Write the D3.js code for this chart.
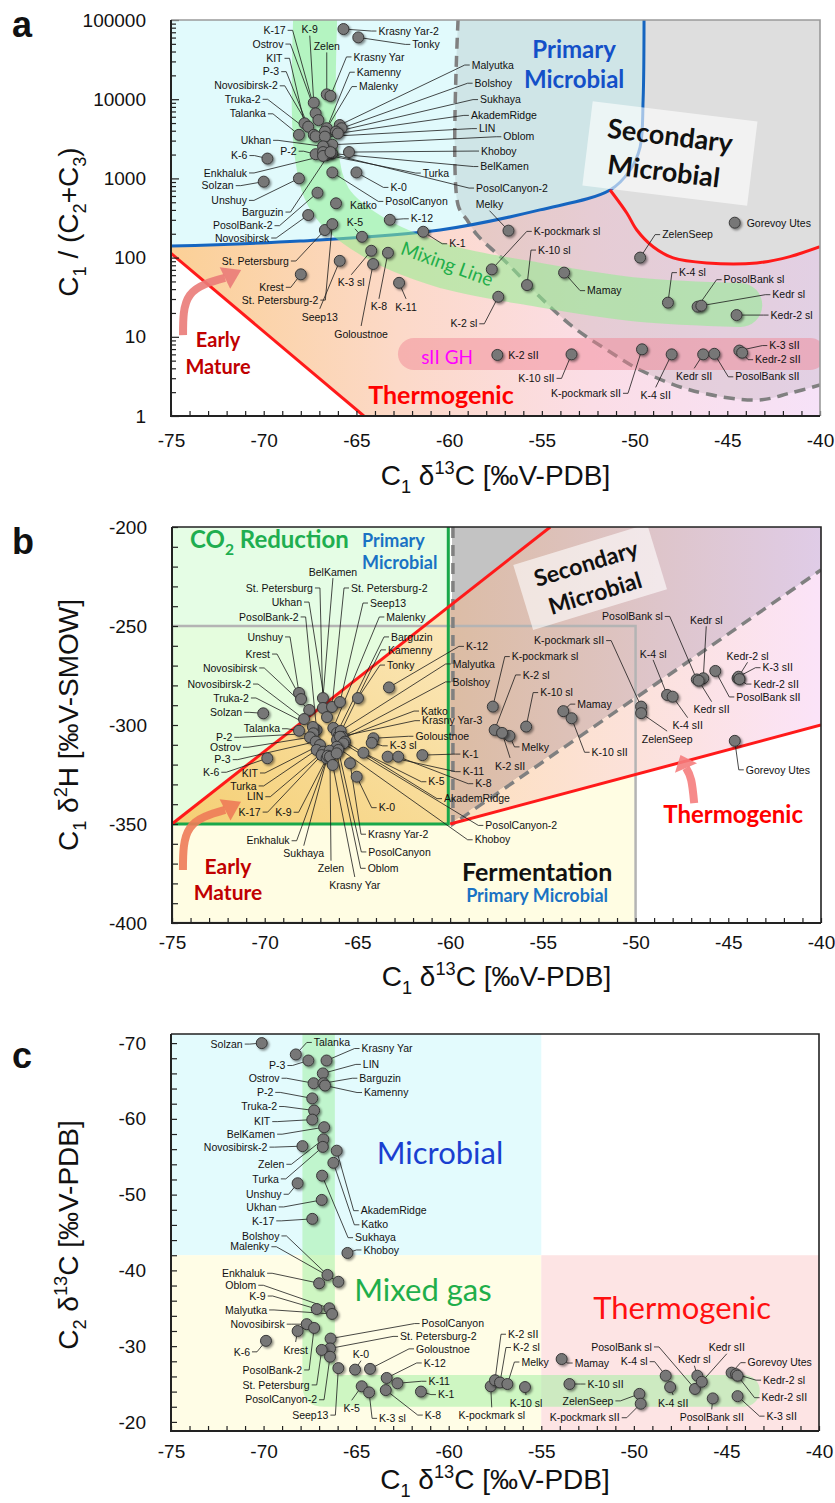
<!DOCTYPE html>
<html>
<head>
<meta charset="utf-8">
<script src="https://cdn.jsdelivr.net/npm/d3@7"></script>
<style>
  body { margin: 0; background: #fff; }
  svg { display: block; font-family: "Liberation Sans", Arial, sans-serif; }
</style>
</head>
<body>
<div id="chart"></div>
<script>
// ---- data: [name, C1 d13C, value] ----
const xTickValues = d3.range(-75, -39, 1);

// panel a: C1 d13C vs C1/(C2+C3)
const aYMajor = [1, 10, 100, 1000, 10000, 100000];
const gasA = [
  ["Krasny Yar-2", -65.7, 76900], ["Tonky", -64.9, 60300], ["Zelen", -66.6, 11500],
  ["Krasny Yar", -66.4, 11000], ["K-9", -67.3, 9040], ["K-17", -67.2, 6630],
  ["Ostrov", -67.05, 5450], ["KIT", -67.8, 4960], ["P-3", -67.6, 4500],
  ["Kamenny", -66.6, 4300], ["Novosibirsk-2", -67.3, 3550], ["Malenky", -66.7, 3900],
  ["Truka-2", -67.2, 3400], ["Talanka", -68.1, 3550], ["Malyutka", -65.9, 4720],
  ["Bolshoy", -65.8, 4300], ["Sukhaya", -66.1, 3900], ["AkademRidge", -66.0, 3700],
  ["LIN", -66.7, 3370], ["Oblom", -66.3, 2660], ["Ukhan", -66.8, 2540],
  ["Khoboy", -65.4, 2150], ["BelKamen", -66.3, 2060], ["P-2", -67.2, 2020],
  ["Turka", -66.6, 1970], ["PosolCanyon-2", -66.8, 2150], ["K-6", -69.8, 1780],
  ["Enkhaluk", -66.8, 1920], ["Solzan", -70.0, 910], ["Unshuy", -68.1, 1000],
  ["Barguzin", -66.4, 2150], ["K-0", -65.0, 1190], ["PosolCanyon", -66.3, 1190],
  ["Katko", -66.1, 485], ["PosolBank-2", -67.1, 660], ["Novosibirsk", -67.6, 345],
  ["K-5", -64.7, 183], ["K-12", -63.2, 300], ["K-1", -61.4, 212],
  ["St. Petersburg", -66.7, 223], ["St. Petersburg-2", -66.3, 265], ["Krest", -68.0, 61.5],
  ["Seep13", -65.9, 91], ["K-3 sl", -64.2, 122], ["Goloustnoe", -64.1, 83],
  ["K-8", -63.3, 115], ["K-11", -62.7, 48], ["Melky", -56.8, 219],
  ["Gorevoy Utes", -44.6, 276], ["K-pockmark sl", -57.7, 71], ["K-10 sl", -55.8, 45],
  ["K-2 sl", -57.35, 32], ["Mamay", -53.8, 64.6], ["ZelenSeep", -49.7, 100],
  ["K-4 sl", -48.2, 27], ["PosolBank sl", -46.6, 24], ["Kedr sl", -46.4, 24.7],
  ["Kedr-2 sl", -44.5, 18.8], ["K-2 sII", -57.4, 5.9], ["K-10 sII", -53.4, 6.0],
  ["K-pockmark sII", -49.6, 6.95], ["K-4 sII", -48.0, 6.0], ["Kedr sII", -46.3, 6.0],
  ["PosolBank sII", -45.7, 6.1], ["K-3 sII", -44.35, 6.7], ["Kedr-2 sII", -44.2, 6.3]
];

// panel b: C1 d13C vs C1 d2H
const bYTicks = d3.range(-400, -199, 10);
const gasB = [
  ["BelKamen", -66.86, -286.4], ["St. Petersburg", -66.86, -291.4], ["St. Petersburg-2", -66.37, -290.9],
  ["Ukhan", -66.64, -296.0], ["Seep13", -65.94, -288.4], ["PosolBank-2", -67.2, -302.5],
  ["Malenky", -66.3, -301.5], ["Unshuy", -68.15, -283.8], ["Barguzin", -66.1, -304.0],
  ["Krest", -68.04, -286.9], ["Kamenny", -66.0, -305.5], ["K-12", -63.3, -281.0],
  ["Novosibirsk", -67.6, -292.4], ["Tonky", -64.97, -286.4], ["Malyutka", -65.9, -303.0],
  ["Bolshoy", -65.8, -306.0], ["Novosibirsk-2", -67.88, -297.0], ["Truka-2", -67.4, -301.0],
  ["Solzan", -70.08, -294.1], ["Katko", -66.1, -307.6], ["Krasny Yar-3", -65.94, -305.9],
  ["Talanka", -68.15, -302.9], ["P-2", -67.38, -304.2], ["Goloustnoe", -64.14, -306.7],
  ["Ostrov", -67.56, -306.2], ["K-3 sl", -64.23, -309.0], ["K-1", -61.5, -315.2],
  ["P-3", -67.25, -308.4], ["K-6", -69.86, -316.8], ["KIT", -67.02, -310.1],
  ["K-11", -63.37, -316.0], ["Turka", -67.2, -312.6], ["K-5", -64.68, -314.0],
  ["K-8", -62.8, -316.0], ["LIN", -66.84, -313.5], ["AkademRidge", -65.67, -308.4],
  ["K-17", -66.93, -315.2], ["K-9", -66.66, -316.8], ["K-0", -65.04, -326.1],
  ["PosolCanyon-2", -65.76, -309.3], ["Khoboy", -66.12, -311.0], ["Krasny Yar-2", -65.4, -319.3],
  ["Enkhaluk", -66.5, -313.0], ["PosolCanyon", -66.03, -312.6], ["Sukhaya", -66.6, -315.5],
  ["Zelen", -66.48, -316.0], ["Krasny Yar", -66.33, -320.2], ["Oblom", -66.12, -314.3],
  ["K-pockmark sl", -57.7, -290.7], ["PosolBank sl", -46.7, -277.0], ["Kedr sl", -46.35, -276.4],
  ["Kedr sII", -46.6, -277.6], ["PosolBank sII", -45.7, -272.7], ["Kedr-2 sl", -44.5, -276.4],
  ["K-3 sII", -44.45, -275.6], ["Kedr-2 sII", -44.4, -276.8], ["K-4 sl", -48.3, -284.8],
  ["K-4 sII", -48.0, -285.7], ["K-pockmark sII", -49.7, -290.7], ["ZelenSeep", -49.7, -294.0],
  ["Mamay", -53.9, -293.0], ["K-10 sII", -53.45, -296.6], ["K-2 sl", -57.6, -302.5],
  ["K-10 sl", -55.9, -300.8], ["Melky", -56.8, -305.5], ["K-2 sII", -57.2, -304.0],
  ["Gorevoy Utes", -44.65, -308.0]
];

// panel c: C1 d13C vs C2 d13C
const cYTicks = d3.range(-70, -19, 2);
const gasC = [
  ["Solzan", -70.1, -70.0], ["Talanka", -68.26, -68.5], ["P-3", -67.58, -67.7],
  ["Krasny Yar", -66.6, -67.7], ["LIN", -66.8, -66.0], ["Ostrov", -67.3, -64.7],
  ["Barguzin", -66.77, -64.7], ["Kamenny", -66.68, -64.4], ["P-2", -67.37, -62.7],
  ["Truka-2", -67.27, -61.1], ["KIT", -67.37, -59.9], ["BelKamen", -66.73, -58.9],
  ["Novosibirsk-2", -67.9, -56.4], ["Zelen", -66.77, -57.3], ["Turka", -66.8, -56.3],
  ["AkademRidge", -66.05, -55.8], ["Katko", -66.23, -54.2], ["Unshuy", -68.16, -51.5],
  ["Sukhaya", -66.84, -52.5], ["Ukhan", -66.86, -49.3], ["K-17", -67.37, -46.8],
  ["Bolshoy", -66.55, -39.4], ["Malenky", -65.96, -38.5], ["Khoboy", -65.47, -42.3],
  ["Enkhaluk", -67.0, -38.3], ["Oblom", -66.45, -35.0], ["K-9", -67.13, -34.9],
  ["Malyutka", -66.3, -34.25], ["Novosibirsk", -67.67, -32.9], ["Krest", -68.16, -32.0],
  ["PosolBank-2", -67.27, -32.4], ["K-6", -69.87, -30.7], ["PosolCanyon", -66.38, -31.0],
  ["St. Petersburg-2", -66.41, -29.7], ["St. Petersburg", -66.86, -29.5], ["PosolCanyon-2", -66.41, -28.6],
  ["Seep13", -65.96, -27.1], ["K-0", -65.06, -26.9], ["Goloustnoe", -64.25, -27.0],
  ["K-12", -63.35, -25.8], ["K-11", -62.77, -25.1], ["K-5", -64.7, -24.7],
  ["K-3 sl", -64.3, -23.9], ["K-8", -63.4, -24.2], ["K-1", -61.5, -24.0],
  ["K-pockmark sl", -57.73, -24.7], ["K-2 sII", -57.5, -25.5], ["K-2 sl", -57.23, -25.2],
  ["Melky", -56.83, -25.0], ["K-10 sl", -55.88, -24.6], ["Mamay", -53.9, -28.3],
  ["K-10 sII", -53.48, -25.0], ["ZelenSeep", -49.7, -23.7], ["K-pockmark sII", -49.63, -22.4],
  ["K-4 sl", -48.28, -26.1], ["K-4 sII", -48.04, -24.6], ["PosolBank sl", -46.7, -24.35],
  ["Kedr sl", -46.57, -26.1], ["Kedr sII", -46.33, -25.3], ["PosolBank sII", -45.74, -23.1],
  ["Gorevoy Utes", -44.72, -26.5], ["Kedr-2 sl", -44.48, -26.3], ["Kedr-2 sII", -44.4, -26.1],
  ["K-3 sII", -44.4, -23.4]
];

// ---- label layout: [dx, dy, anchor] in px from the point (s=start, e=end, m=middle, n=no leader) ----
const labelsA = {
  "Krasny Yar-2": [35, 2, "s"], "Tonky": [54, 7, "s"], "Zelen": [0, -48, "m"], "Krasny Yar": [23, -39, "s"],
  "K-9": [-4, -73, "m"], "K-17": [-30, -83, "e"], "Ostrov": [-35, -76, "e"], "KIT": [-22, -65, "e"],
  "P-3": [-29, -55, "e"], "Kamenny": [30, -56, "s"], "Novosibirsk-2": [-36, -49, "e"], "Malenky": [34, -45, "s"],
  "Truka-2": [-55, -37, "e"], "Talanka": [-33, -21, "e"], "Malyutka": [132, -60, "s"], "Bolshoy": [133, -45, "s"],
  "Sukhaya": [144, -32, "s"], "AkademRidge": [133, -18, "s"], "LIN": [154, -8, "s"], "Oblom": [171, -8, "s"],
  "Ukhan": [-52, -6, "e"], "Khoboy": [132, -1, "s"], "BelKamen": [148, 13, "s"], "P-2": [-19, -3, "e"],
  "Turka": [96, 18, "s"], "PosolCanyon-2": [153, 36, "s"], "K-6": [-20, -3, "e"], "Enkhaluk": [-76, 17, "e"],
  "Solzan": [-30, 4, "e"], "Unshuy": [-52, 22, "e"], "Barguzin": [-47, 60, "e"], "K-0": [34, 15, "s"],
  "PosolCanyon": [53, 29, "s"], "Katko": [14, 2, "sn"], "PosolBank-2": [-45, 33, "e"], "Novosibirsk": [-39, 23, "e"],
  "K-5": [-7, -14, "m"], "K-12": [21, -1, "s"], "K-1": [26, 12, "s"], "St. Petersburg": [-36, 31, "e"],
  "St. Petersburg-2": [-14, 76, "e"], "Krest": [-17, 13, "e"], "Seep13": [-20, 56, "m"], "K-3 sl": [-20, 32, "m"],
  "Goloustnoe": [-12, 70, "m"], "K-8": [-9, 54, "m"], "K-11": [7, 24, "m"], "Melky": [-19, -26, "m"],
  "Gorevoy Utes": [12, 1, "sn"], "K-pockmark sl": [42, -38, "s"], "K-10 sl": [11, -35, "s"], "K-2 sl": [-21, 27, "e"],
  "Mamay": [23, 18, "s"], "ZelenSeep": [22, -23, "s"], "K-4 sl": [11, -30, "s"], "PosolBank sl": [26, -27, "s"],
  "Kedr sl": [71, -11, "s"], "Kedr-2 sl": [34, 0, "s"], "K-2 sII": [11, 0, "sn"], "K-10 sII": [-17, 24, "e"],
  "K-pockmark sII": [-21, 44, "e"], "K-4 sII": [-16, 41, "m"], "Kedr sII": [-9, 22, "m"], "PosolBank sII": [21, 23, "s"],
  "K-3 sII": [30, -5, "s"], "Kedr-2 sII": [13, 7, "s"]
};
const labelsB = {
  "BelKamen": [10, -126, "m"], "St. Petersburg": [-10, -120, "e"], "St. Petersburg-2": [19, -119, "s"],
  "Ukhan": [-25, -115, "e"], "Seep13": [30, -99, "s"], "PosolBank-2": [-18, -113, "e"], "Malenky": [53, -111, "s"],
  "Unshuy": [-16, -56, "e"], "Barguzin": [54, -96, "s"], "Krest": [-31, -45, "e"], "Kamenny": [49, -86, "s"],
  "K-12": [77, -41, "s"], "Novosibirsk": [-52, -42, "e"], "Tonky": [29, -33, "s"], "Malyutka": [112, -67, "s"],
  "Bolshoy": [110, -55, "s"], "Novosibirsk-2": [-53, -35, "e"], "Truka-2": [-64, -29, "e"], "Solzan": [-21, -1, "e"],
  "Katko": [84, -29, "s"], "Krasny Yar-3": [82, -16, "s"], "Talanka": [-19, -2, "e"], "P-2": [-81, 4, "e"],
  "Goloustnoe": [42, -2, "s"], "Ostrov": [-69, 10, "e"], "K-3 sl": [18, 3, "s"], "K-1": [40, -1, "s"],
  "P-3": [-85, 18, "e"], "K-6": [-48, 14, "e"], "KIT": [-62, 28, "e"], "K-11": [75, 15, "s"],
  "Turka": [-60, 36, "e"], "K-5": [65, 29, "s"], "K-8": [77, 27, "s"], "LIN": [-60, 45, "e"],
  "AkademRidge": [99, 57, "s"], "K-17": [-61, 57, "e"], "K-9": [-35, 54, "e"], "K-0": [22, 31, "s"],
  "PosolCanyon-2": [142, 82, "s"], "Khoboy": [138, 93, "s"], "Krasny Yar-2": [18, 71, "s"], "Enkhaluk": [-40, 90, "e"],
  "PosolCanyon": [30, 102, "s"], "Sukhaya": [-24, 98, "m"], "Zelen": [1, 112, "m"], "Krasny Yar": [22, 120, "m"],
  "Oblom": [31, 115, "s"], "K-pockmark sl": [19, -50, "s"], "PosolBank sl": [-34, -63, "e"], "Kedr sl": [3, -58, "m"],
  "Kedr sII": [13, 29, "m"], "PosolBank sII": [21, 26, "s"], "Kedr-2 sl": [10, -22, "m"], "K-3 sII": [24, -9, "s"],
  "Kedr-2 sII": [14, 5, "s"], "K-4 sl": [-14, -41, "m"], "K-4 sII": [15, 29, "m"], "K-pockmark sII": [-37, -66, "e"],
  "ZelenSeep": [26, 26, "m"], "Mamay": [14, -7, "s"], "K-10 sII": [20, 34, "s"], "K-2 sl": [28, -55, "s"],
  "K-10 sl": [14, -34, "s"], "Melky": [12, 11, "s"], "K-2 sII": [8, 33, "m"], "Gorevoy Utes": [11, 29, "s"]
};
const labelsC = {
  "Solzan": [-19, 1, "e"], "Talanka": [18, -12, "s"], "P-3": [-23, 5, "e"], "Krasny Yar": [35, -12, "s"],
  "LIN": [40, -9, "s"], "Ostrov": [-34, -5, "e"], "Barguzin": [36, -5, "s"], "Kamenny": [39, 7, "s"],
  "P-2": [-39, -6, "e"], "Truka-2": [-37, -4, "e"], "KIT": [-42, 2, "e"], "BelKamen": [-49, 7, "e"],
  "Novosibirsk-2": [-35, 1, "e"], "Zelen": [-39, 25, "e"], "Turka": [-44, 32, "e"], "AkademRidge": [24, 60, "s"],
  "Katko": [28, 62, "s"], "Unshuy": [-16, 11, "e"], "Sukhaya": [33, 62, "s"], "Ukhan": [-45, 7, "e"],
  "K-17": [-38, 2, "e"], "Bolshoy": [-48, -39, "e"], "Malenky": [-69, -35, "e"], "Khoboy": [16, -3, "s"],
  "Enkhaluk": [-54, -10, "e"], "Oblom": [-73, -23, "e"], "K-9": [-51, -13, "e"], "Malyutka": [-65, -4, "e"],
  "Novosibirsk": [-22, 0, "e"], "Krest": [-2, 19, "m"], "PosolBank-2": [-12, 42, "e"], "K-6": [-16, 11, "e"],
  "PosolCanyon": [91, -15, "s"], "St. Petersburg-2": [70, -12, "s"], "St. Petersburg": [-12, 35, "e"],
  "PosolCanyon-2": [-13, 43, "e"], "Seep13": [-10, 47, "e"], "K-0": [6, -15, "m"], "Goloustnoe": [46, -20, "s"],
  "K-12": [37, -15, "s"], "K-11": [31, -2, "s"], "K-5": [-10, 22, "m"], "K-3 sl": [10, 26, "s"],
  "K-8": [39, 25, "s"], "K-1": [17, 3, "s"], "K-pockmark sl": [1, 29, "m"], "K-2 sII": [13, -46, "s"],
  "K-2 sl": [13, -35, "s"], "Melky": [14, -22, "s"], "K-10 sl": [1, 16, "m"], "Mamay": [13, 4, "s"],
  "K-10 sII": [18, 0, "s"], "ZelenSeep": [-26, 7, "e"], "K-pockmark sII": [-21, 14, "e"], "K-4 sl": [-18, -14, "e"],
  "K-4 sII": [3, 16, "m"], "PosolBank sl": [-43, -42, "e"], "Kedr sl": [-3, -16, "m"], "Kedr sII": [25, -34, "m"],
  "PosolBank sII": [-1, 19, "m"], "Gorevoy Utes": [16, -10, "s"], "Kedr-2 sl": [27, 6, "s"],
  "Kedr-2 sII": [24, 22, "s"], "K-3 sII": [29, 20, "s"]
};

// ---- region outlines (data units) ----
const blueA = [[-75, 140], [-68.04, 162], [-60.49, 223], [-55.1, 400], [-51.32, 714],
  [-50.24, 1277], [-49.7, 2490], [-49.54, 9760], [-49.49, 100000]];
const redA = [[-51.32, 714], [-50.42, 366], [-49.88, 223], [-49.0, 137], [-47.92, 99],
  [-46.1, 85.5], [-43.41, 85.5], [-41.62, 103], [-40, 137]];
const earlyA = [[-75, 113], [-64.6, 1]];
const dashA = [[-59.52, 100000], [-59.52, 462], [-59.03, 298], [-58.49, 193], [-56.88, 85.5],
  [-55.1, 31.8], [-53.32, 13.3], [-51.48, 6.8], [-49.7, 3.81], [-47.0, 2.13],
  [-43.39, 1.59], [-41.6, 1.95], [-40, 2.46]];
const mixA = [[-67.18, 200000], [-67.18, 2285], [-66.42, 534], [-64.27, 193], [-60.49, 80.7],
  [-55.1, 45], [-49.7, 29.2], [-44.3, 25.2]];

// ---- canvas ----
const W = 835, H = 1503;
const svg = d3.select("#chart").append("svg").attr("width", W).attr("height", H);
const defs = svg.append("defs");
const sh = defs.append("filter").attr("id", "shadow")
  .attr("x", "-60%").attr("y", "-60%").attr("width", "220%").attr("height", "220%");
sh.append("feDropShadow").attr("dx", 1.6).attr("dy", 1.6).attr("stdDeviation", 1.1)
  .attr("flood-color", "#000").attr("flood-opacity", 0.45);

function grad(id, stops, x2 = 1, y1 = 0, y2 = 0) {
  const gr = defs.append("linearGradient").attr("id", id)
    .attr("x1", 0).attr("y1", y1).attr("x2", x2).attr("y2", y2);
  stops.forEach(([o, c]) => gr.append("stop").attr("offset", o).attr("stop-color", c));
}
grad("thermA", [[0, "#fbd096"], [0.35, "#fcd9c8"], [0.65, "#fbdde6"], [1, "#f6e2f8"]]);
grad("secB", [[0, "#d8b59c"], [1, "#dcc6e4"]]);
grad("thermB", [[0, "#fde0bd"], [1, "#fbe3f8"]]);
grad("wedgeB", [[0, "#f5cf73"], [1, "#fbe8bd"]], 1, 1, 0);

function panel(id, p) {
  const g = svg.append("g").attr("transform", `translate(${p.left},${p.top})`);
  defs.append("clipPath").attr("id", id).append("rect").attr("width", p.w).attr("height", p.h);
  const plot = g.append("g").attr("clip-path", `url(#${id})`);
  return { g, plot };
}

function txt(g, x, y, s, o) {
  return g.append("text").attr("x", x).attr("y", y).attr("dy", "0.35em")
    .attr("text-anchor", o.anchor || "middle")
    .attr("font-family", o.family || "Lato, 'Open Sans', sans-serif")
    .attr("font-size", o.size).attr("font-weight", o.weight || "normal")
    .attr("fill", o.fill || "#111").text(s);
}

function rich(sel, parts, size) {
  let cur = 0;
  parts.forEach(([t, s]) => {
    const off = s === "sub" ? size * 0.28 : s === "sup" ? -size * 0.38 : 0;
    sel.append("tspan").attr("dy", off - cur).attr("font-size", s ? size * 0.65 : size).text(t);
    cur = off;
  });
}

function arrow(g, pts, color, head) {
  g.append("path").attr("d", d3.line().curve(d3.curveNatural)(pts))
    .attr("fill", "none").attr("stroke", color).attr("stroke-width", 8).attr("opacity", 0.9);
  const [a, b] = pts.slice(-2);
  const ang = Math.atan2(b[1] - a[1], b[0] - a[0]);
  const L = head || 18, Wd = 12;
  const tip = [b[0] + L * Math.cos(ang), b[1] + L * Math.sin(ang)];
  const p1 = [b[0] + Wd * Math.cos(ang + Math.PI / 2), b[1] + Wd * Math.sin(ang + Math.PI / 2)];
  const p2 = [b[0] - Wd * Math.cos(ang + Math.PI / 2), b[1] - Wd * Math.sin(ang + Math.PI / 2)];
  g.append("path").attr("d", `M${tip}L${p1}L${p2}Z`).attr("fill", color).attr("opacity", 0.9);
}

function drawGas(g, data, layout, x, y) {
  const pts = data.map(([name, vx, vy]) => {
    const [dx, dy, a] = layout[name];
    const px = x(vx), py = y(vy);
    return { name, px, py, tx: px + dx, ty: py + dy, a };
  });
  const link = d3.line();
  g.append("g").selectAll("path").data(pts.filter(d => !d.a.includes("n"))).join("path")
    .attr("d", d => {
      let s;
      if (d.a[0] === "e") s = [[d.tx + 2, d.ty], [d.tx + 7, d.ty]];
      else if (d.a[0] === "s") s = [[d.tx - 2, d.ty], [d.tx - 7, d.ty]];
      else s = [[d.tx, d.ty + (d.ty < d.py ? 6 : -8)]];
      return link([...s, [d.px, d.py]]);
    })
    .attr("fill", "none").attr("stroke", "#1a1a1a").attr("stroke-width", 0.8);
  g.append("g").selectAll("circle").data(pts).join("circle")
    .attr("cx", d => d.px).attr("cy", d => d.py).attr("r", 5.5)
    .attr("fill", "#777").attr("stroke", "#383838").attr("stroke-width", 1)
    .attr("filter", "url(#shadow)");
  g.append("g").selectAll("text").data(pts).join("text")
    .attr("x", d => d.tx).attr("y", d => d.ty).attr("dy", "0.35em")
    .attr("text-anchor", d => ({ e: "end", s: "start", m: "middle" })[d.a[0]])
    .attr("font-size", 10.5).attr("fill", "#111").text(d => d.name);
}

function drawAxes(g, x, y, p, o) {
  const ax = g.append("g").attr("transform", `translate(0,${p.h})`)
    .call(d3.axisBottom(x).tickValues(xTickValues).tickSize(-5).tickPadding(o.xPad)
      .tickFormat(d => d % 5 === 0 ? String(d) : ""));
  const parts = [ax];
  if (o.yMinor) parts.push(g.append("g").call(d3.axisLeft(y).tickValues(o.yMinor).tickSize(-5).tickFormat("")));
  parts.push(g.append("g").call(d3.axisLeft(y).tickValues(o.yMajor).tickSize(-o.majorLen)
    .tickPadding(25).tickFormat(o.fmt)));
  parts.forEach(a => {
    a.select(".domain").remove();
    a.attr("font-family", null).attr("font-size", 19);
    a.selectAll("line").attr("stroke", "#222").attr("stroke-width", 1.2);
    a.selectAll("text").attr("fill", "#111");
  });
  g.append("path").attr("d", `M0,0H${p.w}V${p.h}`).attr("fill", "none")
    .attr("stroke", o.frame).attr("stroke-width", 1.6);
  g.append("path").attr("d", `M0,0V${p.h}H${p.w}`).attr("fill", "none")
    .attr("stroke", "#222").attr("stroke-width", 2);
  // titles
  const xt = svg.append("text").attr("x", p.left + p.w / 2).attr("y", o.xTitleY)
    .attr("text-anchor", "middle").attr("font-size", 28).attr("fill", "#111");
  rich(xt, [["C"], ["1", "sub"], [" δ"], ["13", "sup"], ["C [‰V-PDB]"]], 28);
  const yt = svg.append("text").attr("transform", `translate(${o.yTitleX},${o.yTitleY}) rotate(-90)`)
    .attr("text-anchor", "middle").attr("font-size", 28).attr("fill", "#111");
  rich(yt, o.yTitle, 28);
}

function letter(s, x, y) {
  svg.append("text").attr("x", x).attr("y", y).attr("font-size", 36)
    .attr("font-weight", "bold").attr("fill", "#111").text(s);
}

// =================== panel a ===================
const PA = { left: 171, top: 20, w: 649, h: 396 };
const xA = d3.scaleLinear().domain([-75, -40]).range([0, PA.w]);
const yA = d3.scaleLog().domain([1, 100000]).range([PA.h, 0]);
const A = panel("clipA", PA);
const lineA = d3.line().x(d => xA(d[0])).y(d => yA(d[1])).curve(d3.curveCatmullRom.alpha(0.5));
const asL = s => s.replace(/^M/, "L");

A.plot.append("path").attr("d", lineA(blueA) + `L${xA(-75)},${yA(100000)}Z`).attr("fill", "#e1fafc");
A.plot.append("path")
  .attr("d", lineA(blueA.slice(4)) + `L${xA(-40)},${yA(100000)}L${xA(-40)},${yA(137)}` +
    asL(lineA(redA.slice().reverse())) + "Z")
  .attr("fill", "#f2f2f2");
A.plot.append("path")
  .attr("d", lineA(blueA.slice(0, 5)) + asL(lineA(redA)) +
    `L${xA(-40)},${yA(1)}L${xA(earlyA[1][0])},${yA(1)}L${xA(-75)},${yA(earlyA[0][1])}Z`)
  .attr("fill", "url(#thermA)");
A.plot.append("path").attr("d", lineA(dashA) + `L${xA(-40)},${yA(100000)}Z`)
  .attr("fill", "#5a5a5a").attr("opacity", 0.13);

A.plot.append("path").attr("d", lineA(dashA)).attr("fill", "none").attr("stroke", "#808080")
  .attr("stroke-width", 3.5).attr("stroke-dasharray", "11,7");
A.plot.append("path").attr("d", lineA(blueA)).attr("fill", "none").attr("stroke", "#1565c0").attr("stroke-width", 3);
A.plot.append("path").attr("d", lineA(redA)).attr("fill", "none").attr("stroke", "#ff1a1a").attr("stroke-width", 3);
A.plot.append("path").attr("d", d3.line().x(d => xA(d[0])).y(d => yA(d[1]))(earlyA))
  .attr("fill", "none").attr("stroke", "#ff1a1a").attr("stroke-width", 3);

A.plot.append("path").attr("d", lineA(mixA)).attr("fill", "none").attr("stroke", "#8fee8f")
  .attr("stroke-width", 44).attr("stroke-linecap", "round").attr("stroke-linejoin", "round").attr("opacity", 0.55);
A.plot.append("rect").attr("x", xA(-62.76)).attr("y", yA(9.66))
  .attr("width", xA(-40) - xA(-62.76) + 6).attr("height", yA(3.81) - yA(9.66))
  .attr("rx", 16).attr("fill", "#f08090").attr("opacity", 0.45);

txt(A.g, xA(-53.26), yA(41800), "Primary", { size: 24, weight: "bold", fill: "#1450c8" });
txt(A.g, xA(-53.26), yA(17470), "Microbial", { size: 24, weight: "bold", fill: "#1450c8" });
const sbA = A.g.append("g").attr("transform", `translate(${xA(-48.09)},${yA(2094)}) rotate(7)`);
sbA.append("rect").attr("x", -83).attr("y", -42).attr("width", 166).attr("height", 85)
  .attr("fill", "#fff").attr("opacity", 0.6);
txt(sbA, -2, -17, "Secondary", { size: 27, weight: "bold" });
txt(sbA, -4, 19, "Microbial", { size: 27, weight: "bold" });
txt(A.g, xA(-60.11), yA(83), "Mixing  Line", { size: 19, fill: "#1fae4a" })
  .attr("transform", `rotate(20,${xA(-60.11)},${yA(83)})`);
txt(A.g, xA(-60.11), yA(5.56), "sII GH", { size: 19, fill: "#ff00ff" });
txt(A.g, xA(-60.44), yA(1.84), "Thermogenic", { size: 25, weight: "bold", fill: "#ff0000" });
txt(A.g, xA(-72.46), yA(9.1), "Early", { size: 20, weight: "bold", fill: "#c00000" });
txt(A.g, xA(-72.46), yA(4.16), "Mature", { size: 20, weight: "bold", fill: "#c00000" });
arrow(A.g, [[xA(-74.35), yA(10.5)], [xA(-73.98), yA(33.7)], [xA(-72.09), yA(55.3)]], "#ea7b78");

drawGas(A.g, gasA, labelsA, xA, yA);
const aMinor = [];
[1, 10, 100, 1000, 10000].forEach(b => d3.range(2, 10).forEach(k => aMinor.push(k * b)));
drawAxes(A.g, xA, yA, PA, {
  xPad: 18, yMinor: aMinor, yMajor: aYMajor, majorLen: 8, fmt: d => String(d), frame: "#9a9a9a",
  xTitleY: 485, yTitleX: 78, yTitleY: 222,
  yTitle: [["C"], ["1", "sub"], [" / (C"], ["2", "sub"], ["+C"], ["3", "sub"], [")"]]
});
letter("a", 12, 37);

// =================== panel b ===================
const PB = { left: 172, top: 527, w: 649, h: 396 };
const xB = d3.scaleLinear().domain([-75, -40]).range([0, PB.w]);
const yB = d3.scaleLinear().domain([-400, -200]).range([PB.h, 0]);
const B = panel("clipB", PB);
const polyB = d3.line().x(d => xB(d[0])).y(d => yB(d[1]));

B.plot.append("rect").attr("x", xB(-75)).attr("y", yB(-250)).attr("width", xB(-50) - xB(-75))
  .attr("height", yB(-400) - yB(-250)).attr("fill", "#fffde3");
B.plot.append("rect").attr("x", xB(-75)).attr("y", yB(-200)).attr("width", xB(-60) - xB(-75))
  .attr("height", yB(-350) - yB(-200)).attr("fill", "#dcfcdc").attr("opacity", 0.75);
B.plot.append("path").attr("d", polyB([[-75, -350], [-60, -350], [-60, -239.7]]) + "Z").attr("fill", "url(#wedgeB)");
B.plot.append("path").attr("d", polyB([[-59.9, -200], [-54.6, -200], [-59.9, -239]]) + "Z").attr("fill", "#c3c3c3");
B.plot.append("path").attr("d", polyB([[-60, -239.7], [-54.6, -200], [-40, -200], [-40, -221.7], [-60, -350]]) + "Z")
  .attr("fill", "url(#secB)").attr("opacity", 0.9);
B.plot.append("path").attr("d", polyB([[-60, -350], [-40, -221.7], [-40, -300]]) + "Z").attr("fill", "url(#thermB)");
B.plot.append("rect").attr("x", xB(-75)).attr("y", yB(-250)).attr("width", xB(-50) - xB(-75))
  .attr("height", yB(-400) - yB(-250)).attr("fill", "none").attr("stroke", "#b4b4b4").attr("stroke-width", 2.5);
B.plot.append("path").attr("d", polyB([[-75, -350], [-60.1, -350], [-60.1, -200]]))
  .attr("fill", "none").attr("stroke", "#1aa84a").attr("stroke-width", 3);
B.plot.append("path").attr("d", polyB([[-59.85, -200], [-59.85, -350], [-40, -221.7]]))
  .attr("fill", "none").attr("stroke", "#808080").attr("stroke-width", 3.5).attr("stroke-dasharray", "11,7");
B.plot.append("path").attr("d", polyB([[-75, -350], [-54.6, -200]])).attr("stroke", "#ff1a1a").attr("stroke-width", 3);
B.plot.append("path").attr("d", polyB([[-60, -350], [-40, -300]])).attr("stroke", "#ff1a1a").attr("stroke-width", 3);

const co2 = B.g.append("text").attr("x", xB(-74.03)).attr("y", yB(-210.6)).attr("dy", "0.35em")
  .attr("font-family", "Lato, sans-serif").attr("font-weight", "bold").attr("fill", "#1fae50").attr("font-size", 24);
rich(co2, [["CO"], ["2", "sub"], [" Reduction"]], 24);
txt(B.g, xB(-64.75), yB(-207.1), "Primary", { size: 18, weight: "bold", fill: "#1a72c4", anchor: "start" });
txt(B.g, xB(-64.75), yB(-218.2), "Microbial", { size: 18, weight: "bold", fill: "#1a72c4", anchor: "start" });
const sbB = B.g.append("g").attr("transform", `translate(${xB(-52.45)},${yB(-225.3)}) rotate(-17)`);
sbB.append("rect").attr("x", -70).attr("y", -34).attr("width", 140).attr("height", 68)
  .attr("fill", "#fff").attr("opacity", 0.6);
txt(sbB, 0, -14, "Secondary", { size: 23, weight: "bold" });
txt(sbB, 0, 17, "Microbial", { size: 23, weight: "bold" });
txt(B.g, xB(-55.31), yB(-374.2), "Fermentation", { size: 25, weight: "bold" });
txt(B.g, xB(-55.31), yB(-386.4), "Primary Microbial", { size: 18, weight: "bold", fill: "#1a72c4" });
txt(B.g, xB(-44.74), yB(-345), "Thermogenic", { size: 24, weight: "bold", fill: "#ff0000" });
txt(B.g, xB(-71.98), yB(-371.7), "Early", { size: 21, weight: "bold", fill: "#c00000" });
txt(B.g, xB(-71.98), yB(-384.8), "Mature", { size: 21, weight: "bold", fill: "#c00000" });
arrow(B.g, [[xB(-74.41), yB(-373.2)], [xB(-74.03), yB(-352)], [xB(-72.14), yB(-342.9)]], "#ee7b58");
arrow(B.g, [[xB(-46.84), yB(-339.4)], [xB(-47.0), yB(-327.8)], [xB(-47.28), yB(-321.7)]], "#f57d7d", 14);

drawGas(B.g, gasB, labelsB, xB, yB);
drawAxes(B.g, xB, yB, PB, {
  xPad: 13, yMajor: bYTicks, majorLen: 6, fmt: d => d % 50 === 0 ? String(d) : "", frame: "#222",
  xTitleY: 986, yTitleX: 78, yTitleY: 725,
  yTitle: [["C"], ["1", "sub"], [" δ"], ["2", "sup"], ["H [‰V-SMOW]"]]
});
letter("b", 12, 554);

// =================== panel c ===================
const PC = { left: 171, top: 1034, w: 648, h: 397 };
const xC = d3.scaleLinear().domain([-75, -40]).range([0, PC.w]);
const yC = d3.scaleLinear().domain([-71.2, -18.8]).range([0, PC.h]);
const C = panel("clipC", PC);
C.plot.append("rect").attr("x", xC(-75)).attr("y", yC(-71.2)).attr("width", xC(-55) - xC(-75))
  .attr("height", yC(-42) - yC(-71.2)).attr("fill", "#e3fbfd");
C.plot.append("rect").attr("x", xC(-75)).attr("y", yC(-42)).attr("width", xC(-55) - xC(-75))
  .attr("height", yC(-18.8) - yC(-42)).attr("fill", "#fffde6");
C.plot.append("rect").attr("x", xC(-55)).attr("y", yC(-42)).attr("width", xC(-40) - xC(-55))
  .attr("height", yC(-18.8) - yC(-42)).attr("fill", "#fde4e4");
{
  const x0 = xC(-67.9), x1 = xC(-66.15), xr = xC(-43.2), yt = yC(-71.2), h0 = yC(-26.2), h1 = yC(-22.0);
  const r = (h1 - h0) / 2, rc = 22;
  C.plot.append("path")
    .attr("d", `M${x0},${yt}L${x1},${yt}L${x1},${h0}L${xr - r},${h0}A${r},${r} 0 0 1 ${xr - r},${h1}` +
      `L${x0 + rc},${h1}Q${x0},${h1} ${x0},${h1 - rc}Z`)
    .attr("fill", "#9ef09e").attr("opacity", 0.5);
}
txt(C.g, xC(-60.47), yC(-55.5), "Microbial", { size: 31, fill: "#1a3fd0" });
txt(C.g, xC(-61.39), yC(-37.4), "Mixed gas", { size: 31, fill: "#1fae4a" });
txt(C.g, xC(-47.39), yC(-35.0), "Thermogenic", { size: 31, fill: "#ff1010" });

drawGas(C.g, gasC, labelsC, xC, yC);
drawAxes(C.g, xC, yC, PC, {
  xPad: 14, yMajor: cYTicks, majorLen: 6, fmt: d => d % 10 === 0 ? String(d) : "", frame: "#222",
  xTitleY: 1489, yTitleX: 78, yTitleY: 1235,
  yTitle: [["C"], ["2", "sub"], [" δ"], ["13", "sup"], ["C [‰V-PDB]"]]
});
letter("c", 12, 1068);
</script>
</body>
</html>
